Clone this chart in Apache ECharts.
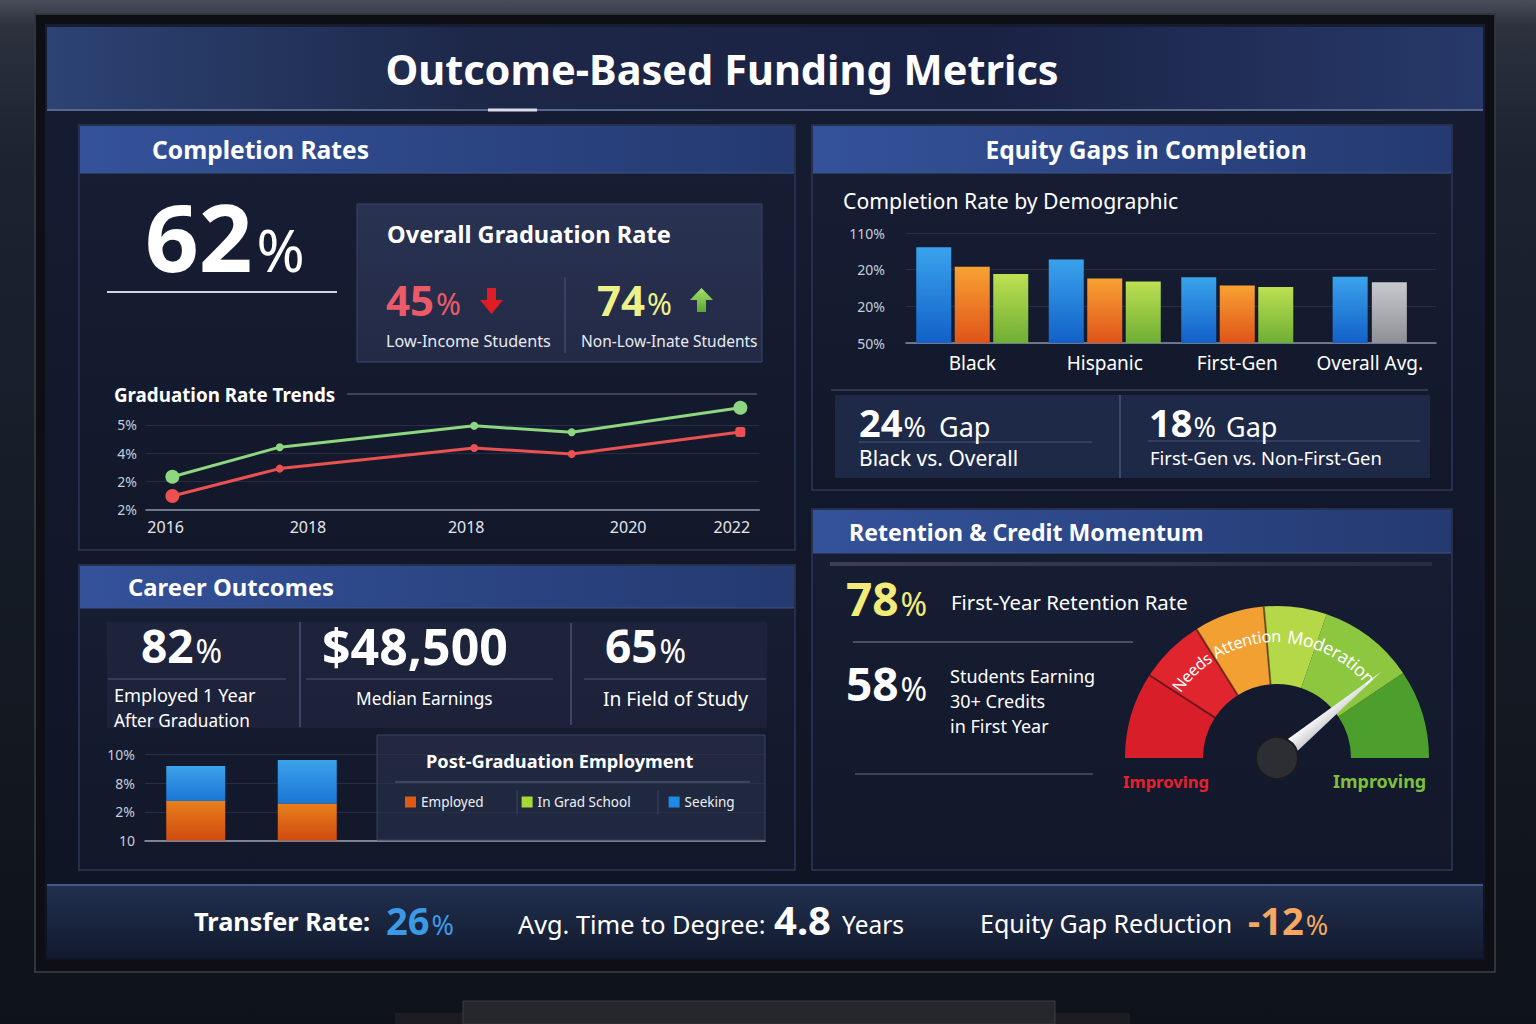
<!DOCTYPE html>
<html><head><meta charset="utf-8">
<script src="https://cdn.jsdelivr.net/npm/echarts@6/dist/echarts.min.js"></script>
<style>html,body{margin:0;padding:0;background:#151a25;}#c{width:1536px;height:1024px;}</style>
</head><body><div id="c"></div>
<script>
// ---------------- DATA ----------------
const trendTickLabels = ['2016', '2018', '2018', '2020', '2022'];
const trendTickPos = [3.2, 26.4, 52.2, 78.6, 95.5];
const trendPointPos = [4.3, 21.8, 53.5, 69.4, 96.9];
const trendNonLowIncome = [1.16, 2.21, 2.97, 2.74, 3.61];
const trendLowIncome = [0.48, 1.45, 2.18, 1.97, 2.75];
const trendYLabels = ['2%', '2%', '4%', '5%'];

const demoCategories = ['Black', 'Hispanic', 'First-Gen', 'Overall Avg.'];
const demoBlue = [2.61, 2.28, 1.79, null];
const demoOrange = [2.08, 1.76, 1.57, null];
const demoGreen = [1.88, 1.68, 1.53, null];
const overallBlue = [null, null, null, 1.81];
const overallGray = [null, null, null, 1.66];
const demoYLabels = ['50%', '20%', '20%', '110%'];

const careerCohorts = ['Cohort 1', 'Cohort 2'];
const careerEmployed = [1.38, 1.29];
const careerGradSchool = [0, 0];
const careerSeeking = [1.22, 1.52];
const careerYLabels = ['10', '2%', '8%', '10%'];
const careerLegend = ['Employed', 'In Grad School', 'Seeking'];

const retentionGauge = [78];

// ---------------- HELPERS ----------------
const FF = '"Noto Sans", "Open Sans", sans-serif';
const mctx = document.createElement('canvas').getContext('2d');
function mw(t, s, w) { mctx.font = `${w} ${s}px ${FF}`; return mctx.measureText(t).width; }
function fitSize(t, wid, w) { return +(100 * wid / mw(t, 100, w)).toFixed(1); }
const G = [];
function rect(x, y, w, h, fill, stroke, lw, z) {
  G.push({ type: 'rect', z: z == null ? -20 : z, silent: true, shape: { x, y, width: w, height: h },
    style: { fill, stroke: stroke || null, lineWidth: lw || 0 } });
}
function line(x1, y1, x2, y2, stroke, lw, z) {
  G.push({ type: 'line', z: z == null ? -10 : z, silent: true, shape: { x1, y1, x2, y2 },
    style: { stroke, lineWidth: lw || 1 } });
}
function lg(x0, y0, x1, y1, stops) {
  return new echarts.graphic.LinearGradient(x0, y0, x1, y1, stops.map(c => ({ offset: c[0], color: c[1] })));
}
function txt(t, x, y, o) {
  o = o || {};
  const w = o.weight || 'normal';
  let size = o.w ? fitSize(t, o.w, w) : o.size;
  if (o.max && size > o.max) size = o.max;
  G.push({ type: 'text', z: 20, silent: true, x, y,
    style: { text: t, x: 0, y: 0, fill: o.color || '#ffffff', fontSize: size, fontWeight: w, fontFamily: FF,
      align: o.align || 'left', verticalAlign: 'middle',
      shadowBlur: 3, shadowColor: 'rgba(0,0,0,0.55)', shadowOffsetY: 1 } });
  return size;
}
function pctPair(num, x, baseline, numSize, pctSize, color, gap) {
  txt(num, x, baseline - 0.37 * numSize, { size: numSize, weight: 'bold', color });
  const w = mw(num, numSize, 'bold');
  txt('%', x + w + (gap == null ? 1 : gap), baseline - 0.37 * pctSize, { size: pctSize, color });
}
function arcText(str, cx, cy, r, startDeg, size, color) {
  let a = startDeg * Math.PI / 180;
  for (const ch of str) {
    const w = mw(ch, size, 'normal');
    const mid = a - (w / 2) / r;
    G.push({ type: 'text', z: 30, silent: true, x: cx + r * Math.cos(mid), y: cy - r * Math.sin(mid),
      rotation: mid - Math.PI / 2,
      style: { text: ch, x: 0, y: 0, align: 'center', verticalAlign: 'middle', fill: color, fontSize: size,
        fontFamily: FF, shadowBlur: 3, shadowColor: 'rgba(0,0,0,0.6)' } });
    a -= w / r;
  }
}

// ---------------- BACKGROUND / FRAME ----------------
rect(0, 0, 1536, 1024, lg(0, 0, 0, 1, [[0, '#4a4e5a'], [0.025, '#2c313d'], [0.15, '#1c2331'], [1, '#0e1219']]), null, 0, -40);
rect(35, 14, 1460, 958, '#0d0f14', '#30343c', 2, -39);
rect(45, 24, 1440, 936, lg(0, 0, 0, 1, [[0, '#161d33'], [1, '#0f1424']]), null, 0, -38);
rect(47, 27, 1436, 83, lg(0, 0, 1, 0, [[0, '#2c4374'], [0.3, '#1d2748'], [0.65, '#1a2243'], [1, '#27396a']]), null, 0, -37);
line(47, 110, 1483, 110, '#56668e', 2, -36);
line(488, 110, 537, 110, '#d8dcea', 3, -35);
rect(47, 884, 1436, 74, lg(0, 0, 0, 1, [[0, '#22304f'], [1, '#121a2e']]), null, 0, -37);
line(47, 885, 1483, 885, '#42588a', 2, -36);
rect(395, 1013, 735, 11, '#1b1d22', null, 0, -39);
rect(463, 1001, 592, 23, '#25272c', '#3a3c42', 1, -38);

// ---------------- PANELS ----------------
function panel(x, y, w, h, hh) {
  rect(x, y, w, h, lg(0, 0, 0, 1, [[0, '#171e35'], [1, '#121829']]), '#2c3758', 1.5, -30);
  rect(x + 1, y + 1, w - 2, hh, lg(0, 0, 1, 0, [[0, '#34529a'], [1, '#243a70']]), null, 0, -29);
  line(x + 1, y + hh + 1, x + w - 1, y + hh + 1, '#3e5486', 1, -28);
}
panel(79, 125, 716, 425, 47);
panel(812, 125, 640, 365, 47);
panel(812, 509, 640, 361, 43);
panel(79, 565, 716, 305, 42);

rect(357, 204, 405, 158, lg(0, 0, 0, 1, [[0, '#2a3252'], [1, '#222a46']]), '#3a4468', 1, -25);
line(565, 277, 565, 353, '#3e4868', 1.5, -24);
line(107, 292, 337, 292, '#d0d4e0', 2, -24);
line(347, 394, 757, 394, '#4a5270', 1.5, -24);
line(831, 390, 1428, 390, '#3a4264', 1.5, -24);
rect(835, 395, 595, 83, '#1e2948', null, 0, -25);
line(1120, 395, 1120, 478, '#4a5678', 1.5, -24);
line(859, 442, 1092, 442, '#4a5678', 1.2, -24);
line(1148, 441, 1420, 441, '#4a5678', 1.2, -24);
rect(830, 562, 602, 4, lg(0, 0, 1, 0, [[0, '#3a4058'], [1, '#262c42']]), null, 0, -25);
line(853, 642, 1133, 642, '#5c6278', 1.5, -24);
line(855, 774, 1093, 774, '#4a5068', 1.5, -24);
line(1123, 760, 1428, 760, lg(0, 0, 1, 0, [[0, '#d0306a'], [0.35, '#6a4a68'], [1, '#4a5478']]), 2, -24);
rect(107, 622, 660, 106, 'rgba(42,50,78,0.35)', null, 0, -25);
line(300, 622, 300, 727, '#4a5272', 1.5, -24);
line(571, 623, 571, 725, '#4a5272', 1.5, -24);
line(108, 679, 286, 679, '#3e4662', 1.5, -24);
line(306, 679, 553, 679, '#3e4662', 1.5, -24);
line(584, 679, 766, 679, '#3e4662', 1.5, -24);
rect(377, 735, 388, 105, 'rgba(44,52,80,0.55)', '#384262', 1, 1);
line(395, 782, 750, 782, '#48506c', 1.5, 2);
line(517, 790, 517, 815, '#3a4262', 1, 2);
line(658, 790, 658, 815, '#3a4262', 1, 2);

// ---------------- TEXTS ----------------
txt('Outcome-Based Funding Metrics', 722, 69, { w: 673, weight: 'bold', align: 'center' });
txt('Completion Rates', 152, 149, { w: 217, weight: 'bold' });
txt('Equity Gaps in Completion', 1146, 149, { w: 321, weight: 'bold', align: 'center' });
txt('Retention & Credit Momentum', 849, 532, { w: 354, weight: 'bold' });
txt('Career Outcomes', 128, 587, { w: 206, weight: 'bold' });

pctPair('62', 145, 271, 94, 58, '#ffffff', 4);
txt('Overall Graduation Rate', 387, 234, { w: 284, weight: 'bold' });
pctPair('45', 386, 315, 42, 30, '#ec5a68', 2);
pctPair('74', 597, 315, 42, 30, '#eef08a', 2);
G.push({ type: 'polygon', z: 20, silent: true, shape: { points: [[487, 288], [496, 288], [496, 300], [503, 300], [491.5, 314], [480, 300], [487, 300]] }, style: { fill: '#e01c24' } });
G.push({ type: 'polygon', z: 20, silent: true, shape: { points: [[701.5, 288], [713, 300], [706, 300], [706, 312], [697, 312], [697, 300], [690, 300]] }, style: { fill: lg(0, 0, 0, 1, [[0, '#a6e070'], [1, '#5aa830']]) } });
txt('Low-Income Students', 386, 341, { w: 165, color: '#e8eaf0' });
txt('Non-Low-Inate Students', 581, 341, { w: 176, color: '#e8eaf0' });
txt('Graduation Rate Trends', 114, 395, { w: 222, weight: 'bold' });

txt('Completion Rate by Demographic', 843, 200, { w: 335 });
pctPair('24', 859, 436, 38, 27, '#ffffff', 1);
txt('Gap', 939, 436 - 0.37 * 27, { size: 27 });
txt('Black vs. Overall', 859, 458, { w: 159 });
pctPair('18', 1149, 436, 38, 27, '#ffffff', 1);
txt('Gap', 1226, 436 - 0.37 * 27, { size: 27 });
txt('First-Gen vs. Non-First-Gen', 1150, 457, { w: 232 });

pctPair('78', 846, 615, 46, 32, '#f2ec78', 2);
txt('First-Year Retention Rate', 951, 602, { w: 237 });
pctPair('58', 846, 700, 46, 32, '#ffffff', 2);
txt('Students Earning', 950, 676, { w: 154, max: 18 });
txt('30+ Credits', 950, 701, { w: 113, max: 18 });
txt('in First Year', 950, 726, { w: 107, max: 18 });
txt('Improving', 1123, 781, { w: 86, weight: 'bold', color: '#e8202c' });
txt('Improving', 1333, 781, { w: 93, weight: 'bold', color: '#7cc03c' });

pctPair('82', 141, 662, 46, 32, '#ffffff', 2);
txt('Employed 1 Year', 114, 695, { w: 142 });
txt('After Graduation', 114, 720, { w: 136 });
txt('$48,500', 322, 664 - 0.37 * 50, { size: 50, weight: 'bold' });
txt('Median Earnings', 356, 698, { w: 137 });
pctPair('65', 605, 662, 46, 32, '#ffffff', 2);
txt('In Field of Study', 603, 698, { w: 145 });
txt('Post-Graduation Employment', 426, 761, { w: 268, weight: 'bold' });

txt('Transfer Rate:', 194, 921, { w: 176, weight: 'bold' });
pctPair('26', 386, 934, 38, 27, '#3b9ae6', 2);
txt('Avg. Time to Degree:', 518, 924, { w: 248 });
txt('4.8', 774, 934 - 0.37 * 40, { size: 40, weight: 'bold' });
txt('Years', 842, 934 - 0.37 * 27, { w: 62 });
txt('Equity Gap Reduction', 980, 923, { w: 252 });
pctPair('-12', 1248, 934, 38, 27, '#f6a862', 2);

// gauge decorations
const GC = [1277, 758];
[147, 122, 95].forEach(d => {
  const a = d * Math.PI / 180;
  line(GC[0] + 74 * Math.cos(a), GC[1] - 74 * Math.sin(a), GC[0] + 152 * Math.cos(a), GC[1] - 152 * Math.sin(a), 'rgba(40,12,12,0.55)', 2, 5);
});
const arcR = 122;
arcText('Needs Attention', GC[0], GC[1], arcR, 146, fitSize('Needs Attention', arcR * 58 * Math.PI / 180, 'normal'), '#ffffff');
arcText('Moderation', GC[0], GC[1], arcR, 85, fitSize('Moderation', arcR * 46 * Math.PI / 180, 'normal'), '#ffffff');

// ---------------- CHART ----------------
const barGrad = (c1, c2) => lg(0, 0, 0, 1, [[0, c1], [1, c2]]);
const axisLbl = { color: '#c8ccd8', fontSize: 14, fontFamily: FF };
const faint = { lineStyle: { color: 'rgba(130,140,170,0.18)', width: 1 } };
const lastIdx = trendPointPos.length - 1;

const chart = echarts.init(document.getElementById('c'), null, { renderer: 'svg', width: 1536, height: 1024 });
chart.setOption({
  animation: false,
  backgroundColor: 'transparent',
  graphic: { elements: G },
  grid: [
    { left: 146, top: 424.9, width: 613.4, height: 84.6 },
    { left: 906, top: 233, width: 530, height: 110 },
    { left: 145, top: 754.5, width: 620, height: 86 },
    { left: 140, top: 754.5, width: 223, height: 86 }
  ],
  xAxis: [
    { gridIndex: 0, type: 'value', min: 0, max: 100, axisLine: { show: true, lineStyle: { color: '#8a92a6', width: 1.5 } },
      axisTick: { show: false }, splitLine: { show: false },
      axisLabel: { customValues: trendTickPos, formatter: v => { const i = trendTickPos.indexOf(v); return i >= 0 ? trendTickLabels[i] : ''; },
        color: '#e2e6f0', fontSize: 16, margin: 9, fontFamily: FF } },
    { gridIndex: 1, type: 'category', data: demoCategories, axisLine: { lineStyle: { color: '#8a92a6', width: 1.5 } },
      axisTick: { show: false }, axisLabel: { interval: 0, color: '#ffffff', fontSize: 19, margin: 10, fontFamily: FF } },
    { gridIndex: 1, type: 'category', data: demoCategories, show: false },
    { gridIndex: 2, type: 'value', min: 0, max: 1, axisLine: { show: true, lineStyle: { color: '#9aa2b4', width: 1.5 } },
      axisTick: { show: false }, axisLabel: { show: false }, splitLine: { show: false } },
    { gridIndex: 3, type: 'category', data: careerCohorts, show: false }
  ],
  yAxis: [
    { gridIndex: 0, type: 'value', min: 0, max: 3, interval: 1, axisLine: { show: false }, axisTick: { show: false },
      splitLine: faint, axisLabel: Object.assign({ formatter: v => trendYLabels[v], margin: 9 }, axisLbl) },
    { gridIndex: 1, type: 'value', min: 0, max: 3, interval: 1, axisLine: { show: false }, axisTick: { show: false },
      splitLine: faint, axisLabel: Object.assign({ formatter: v => demoYLabels[v], margin: 21 }, axisLbl) },
    { gridIndex: 2, type: 'value', min: 0, max: 3, interval: 1, axisLine: { show: false }, axisTick: { show: false },
      splitLine: faint, axisLabel: Object.assign({ formatter: v => careerYLabels[v], margin: 10 }, axisLbl) },
    { gridIndex: 3, type: 'value', min: 0, max: 3, interval: 1, show: false }
  ],
  legend: {
    data: careerLegend.map((n, i) => ({ name: n, itemStyle: { color: ['#e05a14', '#a8d838', '#1e8ae6'][i] } })),
    left: 400, top: 790, icon: 'rect', itemWidth: 11, itemHeight: 11, itemGap: 38, selectedMode: false,
    textStyle: { color: '#eef0f6', fontSize: 13.5, fontFamily: FF }
  },
  series: [
    { type: 'line', name: 'Non-Low-Income Students', xAxisIndex: 0, yAxisIndex: 0, clip: false, z: 5,
      symbol: 'circle',
      data: trendPointPos.map((x, i) => ({ value: [x, trendNonLowIncome[i]], symbolSize: (i === 0 || i === lastIdx) ? 14 : 8 })),
      lineStyle: { color: '#8ed680', width: 3 }, itemStyle: { color: '#8ed680' } },
    { type: 'line', name: 'Low-Income Students', xAxisIndex: 0, yAxisIndex: 0, clip: false, z: 5,
      data: trendPointPos.map((x, i) => ({ value: [x, trendLowIncome[i]], symbol: i === lastIdx ? 'roundRect' : 'circle',
        symbolSize: i === 0 ? 14 : (i === lastIdx ? 10 : 8) })),
      lineStyle: { color: '#ea5150', width: 3 }, itemStyle: { color: '#ea5150' } },

    { type: 'bar', name: 'Group A', xAxisIndex: 1, yAxisIndex: 1, data: demoBlue, barWidth: 35, barGap: '10%',
      itemStyle: { color: barGrad('#3aa3ec', '#1260c8') } },
    { type: 'bar', name: 'Group B', xAxisIndex: 1, yAxisIndex: 1, data: demoOrange, barWidth: 35, barGap: '10%',
      itemStyle: { color: barGrad('#f8a232', '#e0531a') } },
    { type: 'bar', name: 'Group C', xAxisIndex: 1, yAxisIndex: 1, data: demoGreen, barWidth: 35, barGap: '10%',
      itemStyle: { color: barGrad('#bde052', '#6fae34') } },
    { type: 'bar', name: 'Overall', xAxisIndex: 2, yAxisIndex: 1, data: overallBlue, barWidth: 35, barGap: '12%',
      itemStyle: { color: barGrad('#3aa3ec', '#1260c8') } },
    { type: 'bar', name: 'Overall Ref', xAxisIndex: 2, yAxisIndex: 1, data: overallGray, barWidth: 35, barGap: '12%',
      itemStyle: { color: barGrad('#c8c9ce', '#8e9096') } },

    { type: 'bar', name: 'Employed', xAxisIndex: 4, yAxisIndex: 3, stack: 'emp', barWidth: 59,
      data: careerEmployed, itemStyle: { color: barGrad('#e8801c', '#d04a10') } },
    { type: 'bar', name: 'In Grad School', xAxisIndex: 4, yAxisIndex: 3, stack: 'emp', barWidth: 59,
      data: careerGradSchool, itemStyle: { color: '#a8d838' } },
    { type: 'bar', name: 'Seeking', xAxisIndex: 4, yAxisIndex: 3, stack: 'emp', barWidth: 59,
      data: careerSeeking, itemStyle: { color: barGrad('#3ca2ea', '#1a76d6') } },

    { type: 'gauge', center: GC, radius: 152, startAngle: 180, endAngle: 0, min: 0, max: 100, z: 3,
      axisLine: { lineStyle: { width: 78, color: [[0.183, '#d81f29'], [0.322, '#e1252f'], [0.472, '#f2a031'], [0.606, '#b4d847'], [0.811, '#8dc73f'], [1, '#4c9f2c']] } },
      splitLine: { show: false }, axisTick: { show: false }, axisLabel: { show: false },
      pointer: { icon: 'path://M50 0 L100 1000 L0 1000 Z', length: 136, width: 18, itemStyle: { color: lg(0, 0, 1, 0, [[0, '#ffffff'], [1, '#c8c8cc']]) } },
      anchor: { show: true, size: 42, showAbove: true, itemStyle: { color: '#2d2e34', borderColor: '#1a1b1f', borderWidth: 2 } },
      title: { show: false }, detail: { show: false },
      data: [{ value: retentionGauge[0], name: 'First-Year Retention' }] }
  ]
});
</script>
</body></html>
